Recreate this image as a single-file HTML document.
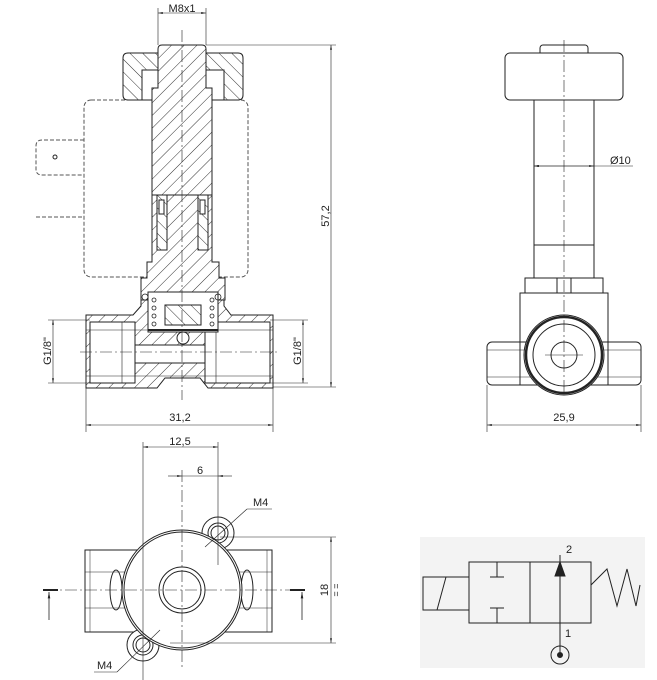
<!DOCTYPE html>
<html><head><meta charset="utf-8"><style>
html,body{margin:0;padding:0;background:#fff}
svg{display:block}
text{font-family:"Liberation Sans",sans-serif;font-size:11px;fill:#222}
</style></head><body>
<svg width="657" height="680" viewBox="0 0 657 680" xmlns="http://www.w3.org/2000/svg">
<defs>
<pattern id="h" patternUnits="userSpaceOnUse" width="9" height="9" patternTransform="rotate(45)">
<rect width="9" height="9" fill="#fff"/><line x1="0" y1="0" x2="0" y2="9" stroke="#333" stroke-width="1"/></pattern>
<pattern id="h2" patternUnits="userSpaceOnUse" width="9" height="9" patternTransform="rotate(-45)">
<rect width="9" height="9" fill="#fff"/><line x1="0" y1="0" x2="0" y2="9" stroke="#333" stroke-width="1"/></pattern>
<marker id="a" viewBox="0 0 10 10" refX="10" refY="5" markerWidth="8" markerHeight="8" orient="auto-start-reverse"><path d="M0,3 L10,5 L0,7Z" fill="#222"/></marker>
</defs>
<g stroke="#222" stroke-width="1" fill="none">
<!-- ===== LEFT SECTION VIEW ===== -->
<!-- coil dashed -->
<rect x="84" y="100" width="164" height="177" rx="7" stroke-dasharray="4,2" stroke="#555"/>
<path d="M84,140 H42 Q36,140 36,146 V169 Q36,175 42,175 H84" stroke-dasharray="4,2" stroke="#555"/>
<circle cx="55" cy="157" r="2"/>
<line x1="36" y1="217" x2="84" y2="217" stroke-dasharray="4,2" stroke="#555"/>
<!-- nut -->
<path d="M128,53 H238 Q243,53 243,58 V95 Q243,100 238,100 H128 Q123,100 123,95 V58 Q123,53 128,53Z" fill="url(#h2)"/>
<rect x="142" y="70" width="18" height="30" fill="#fff"/>
<rect x="206" y="70" width="18" height="30" fill="#fff"/>
<!-- body -->
<path d="M86,315 H133 L141,306 V298 H224 V306 L231,315 H273 V388 H208 L200,378 H165 L157,388 H86Z" fill="url(#h)"/>
<rect x="90" y="322" width="45" height="61" fill="#fff"/>
<rect x="205" y="322" width="65" height="61" fill="#fff"/>
<rect x="135" y="345" width="70" height="18" fill="#fff"/>
<line x1="86" y1="330" x2="273" y2="330" stroke-width="0.5"/>
<line x1="86" y1="376" x2="273" y2="376" stroke-width="0.5"/>
<line x1="122" y1="322" x2="122" y2="383" stroke-width="0.6"/>
<line x1="216" y1="322" x2="216" y2="383" stroke-width="0.6"/>
<!-- stem -->
<path d="M162,45 H202 Q206,45 206,49 V88 H212 V262 H219 V278 H225 V300 H141 V278 H147 V262 H152 V88 H158 V49 Q158,45 162,45Z" fill="url(#h)"/>
<rect x="157" y="195" width="10" height="55" fill="url(#h2)"/>
<rect x="198" y="195" width="10" height="55" fill="url(#h2)"/>
<rect x="159" y="200" width="5" height="14" fill="#fff"/>
<rect x="200" y="200" width="5" height="14" fill="#fff"/>
<line x1="152" y1="195" x2="212" y2="195"/>
<!-- valve chamber -->
<rect x="148" y="292" width="70" height="40" fill="#fff"/>
<rect x="165" y="305" width="36" height="20" fill="url(#h2)"/>
<g stroke-width="0.8">
<circle cx="154" cy="300" r="2"/><circle cx="154" cy="308" r="2"/><circle cx="154" cy="316" r="2"/><circle cx="154" cy="324" r="2"/>
<circle cx="212" cy="300" r="2"/><circle cx="212" cy="308" r="2"/><circle cx="212" cy="316" r="2"/><circle cx="212" cy="324" r="2"/>
<circle cx="145" cy="297" r="3"/><circle cx="218" cy="297" r="3"/>
</g>
<line x1="148" y1="330" x2="218" y2="330" stroke-width="2"/>
<circle cx="183" cy="338" r="6" fill="#fff"/>
<!-- centerlines -->
<line x1="182" y1="30" x2="182" y2="400" stroke-dasharray="12,3,2,3" stroke-width="0.6"/>
<line x1="80" y1="352" x2="280" y2="352" stroke-dasharray="12,3,2,3" stroke-width="0.6"/>
<!-- dims -->
<line x1="158" y1="8" x2="158" y2="45" stroke-width="0.6"/><line x1="206" y1="8" x2="206" y2="45" stroke-width="0.6"/>
<line x1="158" y1="13" x2="206" y2="13" stroke-width="0.6" marker-start="url(#a)" marker-end="url(#a)"/>
<line x1="206" y1="45" x2="336" y2="45" stroke-width="0.6"/><line x1="273" y1="387" x2="336" y2="387" stroke-width="0.6"/>
<line x1="331" y1="45" x2="331" y2="387" stroke-width="0.6" marker-start="url(#a)" marker-end="url(#a)"/>
<line x1="86" y1="388" x2="86" y2="432" stroke-width="0.6"/><line x1="273" y1="388" x2="273" y2="432" stroke-width="0.6"/>
<line x1="86" y1="425" x2="273" y2="425" stroke-width="0.6" marker-start="url(#a)" marker-end="url(#a)"/>
<line x1="48" y1="320" x2="90" y2="320" stroke-width="0.6"/><line x1="48" y1="383" x2="90" y2="383" stroke-width="0.6"/>
<line x1="53" y1="320" x2="53" y2="383" stroke-width="0.6" marker-start="url(#a)" marker-end="url(#a)"/>
<line x1="270" y1="320" x2="308" y2="320" stroke-width="0.6"/><line x1="270" y1="383" x2="308" y2="383" stroke-width="0.6"/>
<line x1="303" y1="320" x2="303" y2="383" stroke-width="0.6" marker-start="url(#a)" marker-end="url(#a)"/>

<!-- ===== RIGHT VIEW ===== -->
<rect x="540" y="45" width="48" height="12" rx="3"/>
<rect x="505" y="53" width="118" height="47" rx="5" fill="#fff"/>
<rect x="534" y="100" width="60" height="178"/>
<line x1="534" y1="245" x2="594" y2="245"/>
<rect x="525" y="278" width="78" height="15"/>
<line x1="557" y1="278" x2="557" y2="293"/><line x1="571" y1="278" x2="571" y2="293"/>
<rect x="520" y="293" width="88" height="92"/>
<rect x="487" y="342" width="154" height="43" rx="5"/>
<line x1="487" y1="350" x2="641" y2="350" stroke-width="0.5"/><line x1="487" y1="377" x2="641" y2="377" stroke-width="0.5"/>
<circle cx="564" cy="355" r="40" fill="#fff"/>
<circle cx="564" cy="355" r="38" stroke-width="2.5"/>
<circle cx="564" cy="355" r="31"/>
<circle cx="564" cy="355" r="13"/>
<line x1="564" y1="40" x2="564" y2="395" stroke-dasharray="12,3,2,3" stroke-width="0.6"/>
<line x1="545" y1="355" x2="583" y2="355" stroke-width="0.6"/>
<line x1="534" y1="166" x2="633" y2="166" stroke-width="0.6" marker-start="url(#a)"/>
<line x1="594" y1="166" x2="534" y2="166" stroke-width="0.6" marker-start="url(#a)" marker-end="url(#a)"/>
<line x1="487" y1="385" x2="487" y2="432" stroke-width="0.6"/><line x1="641" y1="385" x2="641" y2="432" stroke-width="0.6"/>
<line x1="487" y1="425" x2="641" y2="425" stroke-width="0.6" marker-start="url(#a)" marker-end="url(#a)"/>

<!-- ===== BOTTOM VIEW ===== -->
<rect x="85" y="550" width="187" height="82"/>
<line x1="85" y1="572" x2="272" y2="572" stroke-width="0.5"/><line x1="85" y1="608" x2="272" y2="608" stroke-width="0.5"/>
<line x1="90" y1="550" x2="90" y2="632" stroke-width="0.5"/><line x1="267" y1="550" x2="267" y2="632" stroke-width="0.5"/>
<ellipse cx="116" cy="590" rx="6" ry="20"/><ellipse cx="247" cy="590" rx="6" ry="20"/>
<circle cx="218" cy="533" r="16" fill="#fff"/><circle cx="218" cy="533" r="10"/><circle cx="218" cy="533" r="7"/>
<circle cx="143" cy="645" r="16" fill="#fff"/><circle cx="143" cy="645" r="10"/><circle cx="143" cy="645" r="7"/>
<circle cx="182" cy="590" r="60" fill="#fff"/>
<circle cx="182" cy="590" r="58"/>
<circle cx="182" cy="590" r="23"/><circle cx="182" cy="590" r="19"/>
<line x1="45" y1="590" x2="305" y2="590" stroke-dasharray="12,3,2,3" stroke-width="0.6"/>
<line x1="182" y1="470" x2="182" y2="668" stroke-dasharray="12,3,2,3" stroke-width="0.6"/>
<line x1="143" y1="442" x2="143" y2="680" stroke-width="0.6"/>
<line x1="218" y1="442" x2="218" y2="565" stroke-width="0.6"/>
<line x1="143" y1="447" x2="218" y2="447" stroke-width="0.6" marker-start="url(#a)" marker-end="url(#a)"/>
<line x1="168" y1="476" x2="182" y2="476" stroke-width="0.6" marker-end="url(#a)"/>
<line x1="232" y1="476" x2="218" y2="476" stroke-width="0.6" marker-end="url(#a)"/>
<line x1="182" y1="476" x2="218" y2="476" stroke-width="0.6"/>
<line x1="205" y1="547" x2="247" y2="509" stroke-width="0.6"/><line x1="247" y1="509" x2="272" y2="509" stroke-width="0.6"/>
<line x1="160" y1="630" x2="117" y2="672" stroke-width="0.6"/><line x1="117" y1="672" x2="94" y2="672" stroke-width="0.6"/>
<line x1="220" y1="537" x2="336" y2="537" stroke-width="0.6"/><line x1="170" y1="643" x2="336" y2="643" stroke-width="0.6"/>
<line x1="331" y1="537" x2="331" y2="643" stroke-width="0.6" marker-start="url(#a)" marker-end="url(#a)"/>
<line x1="43" y1="590" x2="58" y2="590" stroke-width="2"/><line x1="49" y1="620" x2="49" y2="592" stroke-width="0.8" marker-end="url(#a)"/>
<line x1="290" y1="590" x2="305" y2="590" stroke-width="2"/><line x1="302" y1="620" x2="302" y2="592" stroke-width="0.8" marker-end="url(#a)"/>

<!-- ===== SYMBOL ===== -->
<rect x="420" y="537" width="225" height="131" fill="#f3f3f3" stroke="none"/>
<rect x="423" y="577" width="46" height="33"/>
<line x1="437" y1="610" x2="446" y2="577"/>
<rect x="469" y="562" width="122" height="61"/>
<line x1="530" y1="562" x2="530" y2="623"/>
<line x1="497" y1="562" x2="497" y2="577"/><line x1="490" y1="577" x2="504" y2="577"/>
<line x1="497" y1="608" x2="497" y2="623"/><line x1="490" y1="608" x2="504" y2="608"/>
<line x1="560" y1="575" x2="560" y2="652"/>
<line x1="560" y1="555" x2="560" y2="562"/>
<path d="M555,576 L560,562 L565,576Z" fill="#222"/>
<circle cx="560" cy="655" r="9"/>
<circle cx="560" cy="655" r="2.5" fill="#222"/>
<polyline points="591,585 607,569 617,606 627,569 636,606 640,585"/>
</g>
<!-- texts -->
<text x="182" y="12" text-anchor="middle">M8x1</text>
<text x="180" y="421" text-anchor="middle">31,2</text>
<text x="564" y="421" text-anchor="middle">25,9</text>
<text x="610" y="164">Ø10</text>
<text transform="translate(329,216) rotate(-90)" text-anchor="middle">57,2</text>
<text transform="translate(51,351) rotate(-90)" text-anchor="middle">G1/8"</text>
<text transform="translate(301,351) rotate(-90)" text-anchor="middle">G1/8"</text>
<text x="180" y="445" text-anchor="middle">12,5</text>
<text x="200" y="474" text-anchor="middle">6</text>
<text x="253" y="506">M4</text>
<text x="97" y="669">M4</text>
<text transform="translate(328,590) rotate(-90)" text-anchor="middle">18</text>
<text transform="translate(339,590) rotate(-90)" text-anchor="middle" style="font-size:9px">= =</text>
<text x="566" y="553">2</text>
<text x="565" y="637">1</text>
</svg>
</body></html>
